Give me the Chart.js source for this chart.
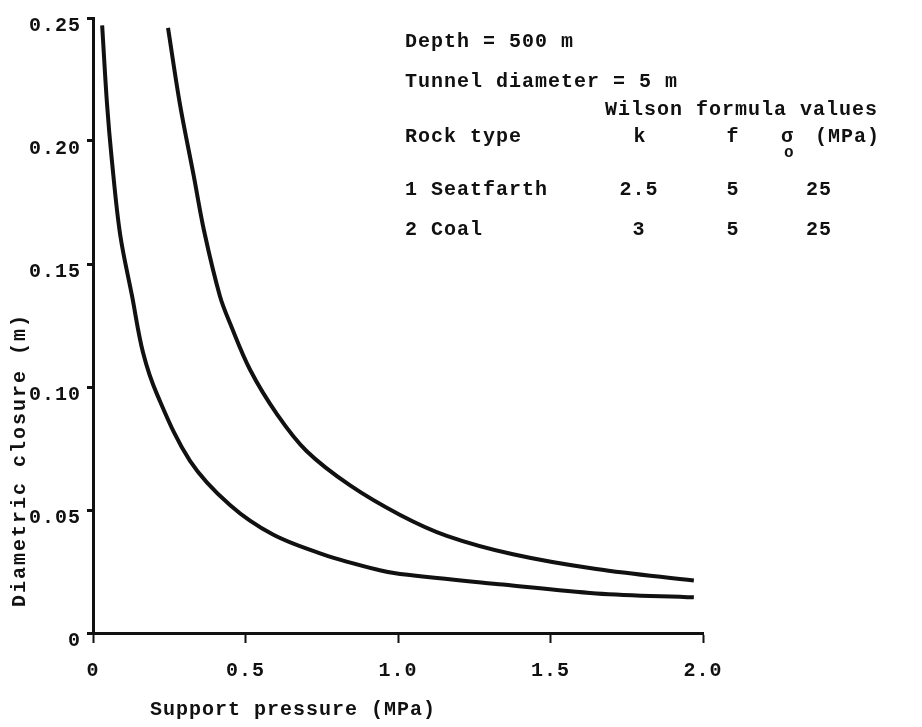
<!DOCTYPE html>
<html>
<head>
<meta charset="utf-8">
<script src="https://cdn.jsdelivr.net/npm/chart.js@4.4.1/dist/chart.umd.min.js"></script>
<style>
  html, body { margin: 0; padding: 0; background: #fff; }
  #wrap { width: 922px; height: 727px; position: relative; }
</style>
</head>
<body>
<div id="wrap"><canvas id="closureChart"></canvas></div>
<script>
// --- Datos ---
// Curva inferior
const pressureLower = [0.03, 0.046, 0.062, 0.089, 0.128, 0.164, 0.21, 0.318, 0.449, 0.59, 0.754, 0.94, 1.007, 1.344, 1.65, 1.97];
const closureLower  = [0.247, 0.215, 0.192, 0.162, 0.137, 0.114, 0.097, 0.070, 0.052, 0.040, 0.032, 0.0255, 0.024, 0.0197, 0.0161, 0.0145];
// Curva superior
const pressureUpper = [0.246, 0.285, 0.33, 0.365, 0.416, 0.449, 0.515, 0.603, 0.70, 0.843, 1.007, 1.16, 1.377, 1.65, 1.97];
const closureUpper  = [0.246, 0.215, 0.186, 0.163, 0.137, 0.126, 0.107, 0.089, 0.074, 0.060, 0.048, 0.0395, 0.032, 0.026, 0.0213];

const xTickLabels = ['0', '0.5', '1.0', '1.5', '2.0'];
const yTickLabels = ['0', '0.05', '0.10', '0.15', '0.20', '0.25'];

// Tabla de la esquina
const headerLines = ['Depth = 500 m', 'Tunnel diameter = 5 m'];
const rockTypes   = ['1 Seatfarth', '2 Coal'];
const kValues     = ['2.5', '3'];
const fValues     = ['5', '5'];
const sigmaValues = ['25', '25'];

const FONT = "'Liberation Mono', 'DejaVu Sans Mono', monospace";
const INK = '#111';

const toPoints = (xs, ys) => xs.map((x, i) => ({ x: x, y: ys[i] }));

// Plugin para el espaciado de letras, títulos de ejes y la tabla
const annotations = {
    id: 'annotations',
    beforeDraw(chart) {
        chart.ctx.letterSpacing = '1px';
    },
    afterDraw(chart) {
        const ctx = chart.ctx;
        ctx.save();
        ctx.letterSpacing = '1px';
        ctx.fillStyle = INK;
        ctx.font = 'bold 20px ' + FONT;
        ctx.textBaseline = 'middle';

        // títulos de ejes
        ctx.textAlign = 'left';
        ctx.fillText('Support pressure (MPa)', 150, 710);
        ctx.save();
        ctx.translate(20, 460);
        ctx.rotate(-Math.PI / 2);
        ctx.textAlign = 'center';
        ctx.letterSpacing = '2px';
        ctx.fillText('Diametric closure (m)', 0, 0);
        ctx.restore();

        // tabla
        ctx.textAlign = 'left';
        ctx.fillText(headerLines[0], 405, 42);
        ctx.fillText(headerLines[1], 405, 82);
        ctx.fillText('Wilson formula values', 605, 110);
        ctx.fillText('Rock type', 405, 137);
        ctx.textAlign = 'center';
        ctx.fillText('k', 640, 137);
        ctx.fillText('f', 733, 137);
        ctx.textAlign = 'left';
        ctx.fillText('σ', 781, 137);
        ctx.fillText('(MPa)', 815, 137);
        ctx.font = 'bold 16px ' + FONT;
        ctx.fillText('o', 784, 153);
        ctx.font = 'bold 20px ' + FONT;

        const rowY = [190, 230];
        rockTypes.forEach((name, i) => {
            ctx.textAlign = 'left';
            ctx.fillText(name, 405, rowY[i]);
            ctx.textAlign = 'center';
            ctx.fillText(kValues[i], 639, rowY[i]);
            ctx.fillText(fValues[i], 733, rowY[i]);
            ctx.fillText(sigmaValues[i], 819, rowY[i]);
        });
        ctx.restore();
    }
};

const lineStyle = {
    borderColor: INK,
    borderWidth: 4,
    pointRadius: 0,
    fill: false,
    tension: 0.35
};

new Chart(document.getElementById('closureChart').getContext('2d'), {
    type: 'line',
    data: {
        datasets: [
            Object.assign({ label: 'lower', data: toPoints(pressureLower, closureLower) }, lineStyle),
            Object.assign({ label: 'upper', data: toPoints(pressureUpper, closureUpper) }, lineStyle)
        ]
    },
    options: {
        responsive: true,
        maintainAspectRatio: false,
        animation: false,
        layout: { padding: { top: 12, right: 219, left: 0, bottom: 0 } },
        plugins: {
            legend: { display: false },
            tooltip: { enabled: false }
        },
        scales: {
            x: {
                type: 'linear',
                min: 0,
                max: 2,
                afterFit: scale => { scale.height = 94; },
                border: { display: true, color: INK, width: 3 },
                grid: { drawOnChartArea: false, color: INK, tickLength: 10, tickWidth: 2 },
                ticks: {
                    stepSize: 0.5,
                    color: INK,
                    padding: 16,
                    font: { family: FONT, size: 20, weight: 'bold' },
                    maxRotation: 0,
                    callback: (v, i) => xTickLabels[i]
                }
            },
            y: {
                min: 0,
                max: 0.25,
                afterFit: scale => { scale.width = 93; },
                border: { display: true, color: INK, width: 3 },
                grid: { drawOnChartArea: false, color: INK, tickLength: 6, tickWidth: 3 },
                ticks: {
                    stepSize: 0.05,
                    color: INK,
                    padding: 6,
                    labelOffset: 8,
                    font: { family: FONT, size: 20, weight: 'bold' },
                    callback: (v, i) => yTickLabels[i]
                }
            }
        }
    },
    plugins: [annotations]
});
</script>
</body>
</html>
